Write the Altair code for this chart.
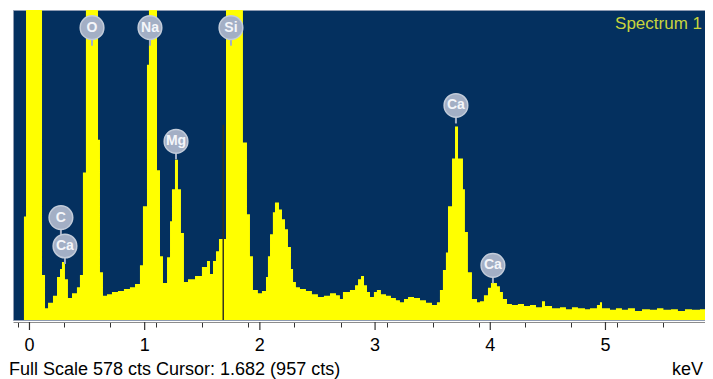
import altair as alt
import pandas as pd

# EDS spectrum: channel start energy (keV) and counts (step data)
energy_kev = [-0.143, -0.048, -0.030, 0.109, 0.135, 0.161, 0.204, 0.239, 0.265, 0.282,
              0.308, 0.334, 0.369, 0.412, 0.438, 0.464, 0.490, 0.595, 0.612, 0.638,
              0.673, 0.716, 0.768, 0.820, 0.872, 0.916, 0.959, 0.985, 1.020, 1.037,
              1.107, 1.133, 1.159, 1.194, 1.220, 1.237, 1.263, 1.289, 1.315, 1.341,
              1.376, 1.437, 1.497, 1.541, 1.567, 1.593, 1.619, 1.645, 1.706, 1.853,
              1.888, 1.914, 1.940, 1.983, 2.018, 2.053, 2.070, 2.088, 2.113, 2.131,
              2.166, 2.192, 2.218, 2.244, 2.270, 2.288, 2.313, 2.348, 2.400, 2.452,
              2.504, 2.556, 2.609, 2.661, 2.695, 2.721, 2.782, 2.826, 2.852, 2.878,
              2.904, 2.930, 2.956, 2.990, 3.016, 3.051, 3.095, 3.138, 3.181, 3.216,
              3.251, 3.286, 3.338, 3.390, 3.442, 3.494, 3.537, 3.563, 3.589, 3.615,
              3.633, 3.668, 3.694, 3.720, 3.763, 3.780, 3.806, 3.841, 3.885, 3.911,
              3.945, 3.980, 4.006, 4.058, 4.084, 4.110, 4.145, 4.188, 4.240, 4.293,
              4.345, 4.397, 4.449, 4.475, 4.536, 4.605, 4.657, 4.709, 4.761, 4.822,
              4.866, 4.926, 4.952, 4.970, 5.039, 5.091, 5.143, 5.195, 5.256, 5.317,
              5.386, 5.447, 5.503, 5.569, 5.629, 5.690, 5.751, 5.820, 5.881, 5.933]
counts = [0, 193, 1500, 84, 22, 32, 45, 80, 95, 108,
          76, 41, 50, 61, 84, 275, 900, 336, 89, 45,
          48, 52, 54, 58, 61, 67, 102, 212, 476, 1100,
          279, 119, 69, 117, 184, 244, 299, 244, 162, 71,
          76, 82, 99, 110, 86, 110, 128, 151, 2400, 331,
          197, 119, 56, 50, 54, 80, 119, 160, 201, 219,
          206, 188, 169, 136, 95, 71, 61, 58, 54, 48,
          43, 45, 50, 46, 39, 52, 56, 65, 76, 82,
          65, 52, 43, 52, 56, 48, 45, 41, 37, 33,
          39, 43, 41, 37, 32, 28, 33, 56, 93, 126,
          212, 301, 361, 301, 244, 164, 89, 39, 33, 35,
          46, 60, 69, 63, 52, 39, 30, 28, 30, 26,
          28, 24, 35, 26, 22, 24, 20, 24, 22, 20,
          22, 28, 33, 22, 19, 22, 19, 22, 17, 20,
          19, 22, 19, 20, 17, 20, 19, 20, 19, 19]
assert len(energy_kev) == len(counts)

peak_labels = ["O", "Na", "Si", "Mg", "C", "Ca", "Ca", "Ca"]
label_kev = [0.543, 1.046, 1.749, 1.272, 0.273, 0.308, 3.702, 4.023]
label_cts = [545, 545, 545, 333, 191, 138, 400, 102]

full_scale = 578
cursor_kev = 1.682
cursor_top_cts = 364
minor_ticks = [round(-0.1 + 0.1 * i, 1) for i in range(60)]
major_ticks = [0, 1, 2, 3, 4, 5]
major_labels = ["0", "1", "2", "3", "4", "5"]

spectrum_title = "Spectrum 1"
footer_text = "Full Scale 578 cts Cursor: 1.682  (957 cts)"
unit_text = "keV"

NAVY = "#04305f"
YELLOW = "#ffff00"
BADGE = "#a3afc5"
FONT = "Liberation Sans"

spec = pd.DataFrame({"keV": energy_kev, "cts": counts})
labels = pd.DataFrame({"el": peak_labels, "keV": label_kev, "cts": label_cts})
cursor = pd.DataFrame({"keV": [cursor_kev], "top": [cursor_top_cts]})
majors = pd.DataFrame({"keV": major_ticks, "lab": major_labels})

xs = alt.Scale(domain=[-0.143, 5.864], nice=False, zero=False)
ys = alt.Scale(domain=[0, full_scale], nice=False)

x_axis = alt.Axis(
    values=minor_ticks, labels=False,
    title=None, grid=False, offset=2,
    domainColor="#8c8c8c", domainWidth=1,
    tickColor="#333333", tickWidth=1, tickSize=5,
)

area = alt.Chart(spec).mark_area(interpolate="step-after", color=YELLOW, opacity=1, clip=True).encode(
    x=alt.X("keV:Q", scale=xs, axis=x_axis),
    y=alt.Y("cts:Q", scale=ys, axis=None),
)

major_tick_marks = alt.Chart(majors).mark_rule(color="#333333", strokeWidth=1.2).encode(
    x=alt.X("keV:Q", scale=xs),
    y=alt.value(312), y2=alt.value(320),
)

major_tick_labels = alt.Chart(majors).mark_text(
    color="#000000", fontSize=18, font=FONT, baseline="alphabetic"
).encode(
    x=alt.X("keV:Q", scale=xs),
    y=alt.value(341), text="lab:N",
)

cursor_rule = alt.Chart(cursor).mark_rule(color="#33331f", strokeWidth=1.5).encode(
    x=alt.X("keV:Q", scale=xs),
    y=alt.Y("top:Q", scale=ys),
    y2=alt.datum(0),
)

stems = alt.Chart(labels).mark_rule(color=BADGE, strokeWidth=2, yOffset=11, y2Offset=18).encode(
    x=alt.X("keV:Q", scale=xs),
    y=alt.Y("cts:Q", scale=ys),
    y2="cts:Q",
)

badges = alt.Chart(labels).mark_circle(size=560, color=BADGE, opacity=1, stroke="#c3ccda", strokeWidth=1.5).encode(
    x=alt.X("keV:Q", scale=xs),
    y=alt.Y("cts:Q", scale=ys),
)

badge_text = alt.Chart(labels).mark_text(color="#f4f6fa", fontSize=14, fontWeight="bold", font=FONT).encode(
    x=alt.X("keV:Q", scale=xs),
    y=alt.Y("cts:Q", scale=ys),
    text="el:N",
)

title_text = alt.Chart(pd.DataFrame({"t": [spectrum_title]})).mark_text(
    color="#c8d43c", fontSize=17, font=FONT, align="right", baseline="alphabetic"
).encode(x=alt.value(689), y=alt.value(19), text="t:N")

footer = alt.Chart(pd.DataFrame({"t": [footer_text]})).mark_text(
    color="#000000", fontSize=18, font=FONT, align="left", baseline="alphabetic"
).encode(x=alt.value(-4), y=alt.value(365), text="t:N")

unit = alt.Chart(pd.DataFrame({"t": [unit_text]})).mark_text(
    color="#000000", fontSize=18, font=FONT, align="right", baseline="alphabetic"
).encode(x=alt.value(690), y=alt.value(365), text="t:N")

chart = alt.layer(area, major_tick_marks, major_tick_labels, cursor_rule, stems, badges, badge_text,
                  title_text, footer, unit).properties(
    width=692, height=310,
    padding={"left": 5, "top": 2, "right": 0, "bottom": 59},
    autosize="none",
    background="white",
).configure_view(fill=NAVY, stroke="#8e9bb2", strokeWidth=1)

chart.save("out.html", embed_options={"renderer": "svg", "actions": False})
